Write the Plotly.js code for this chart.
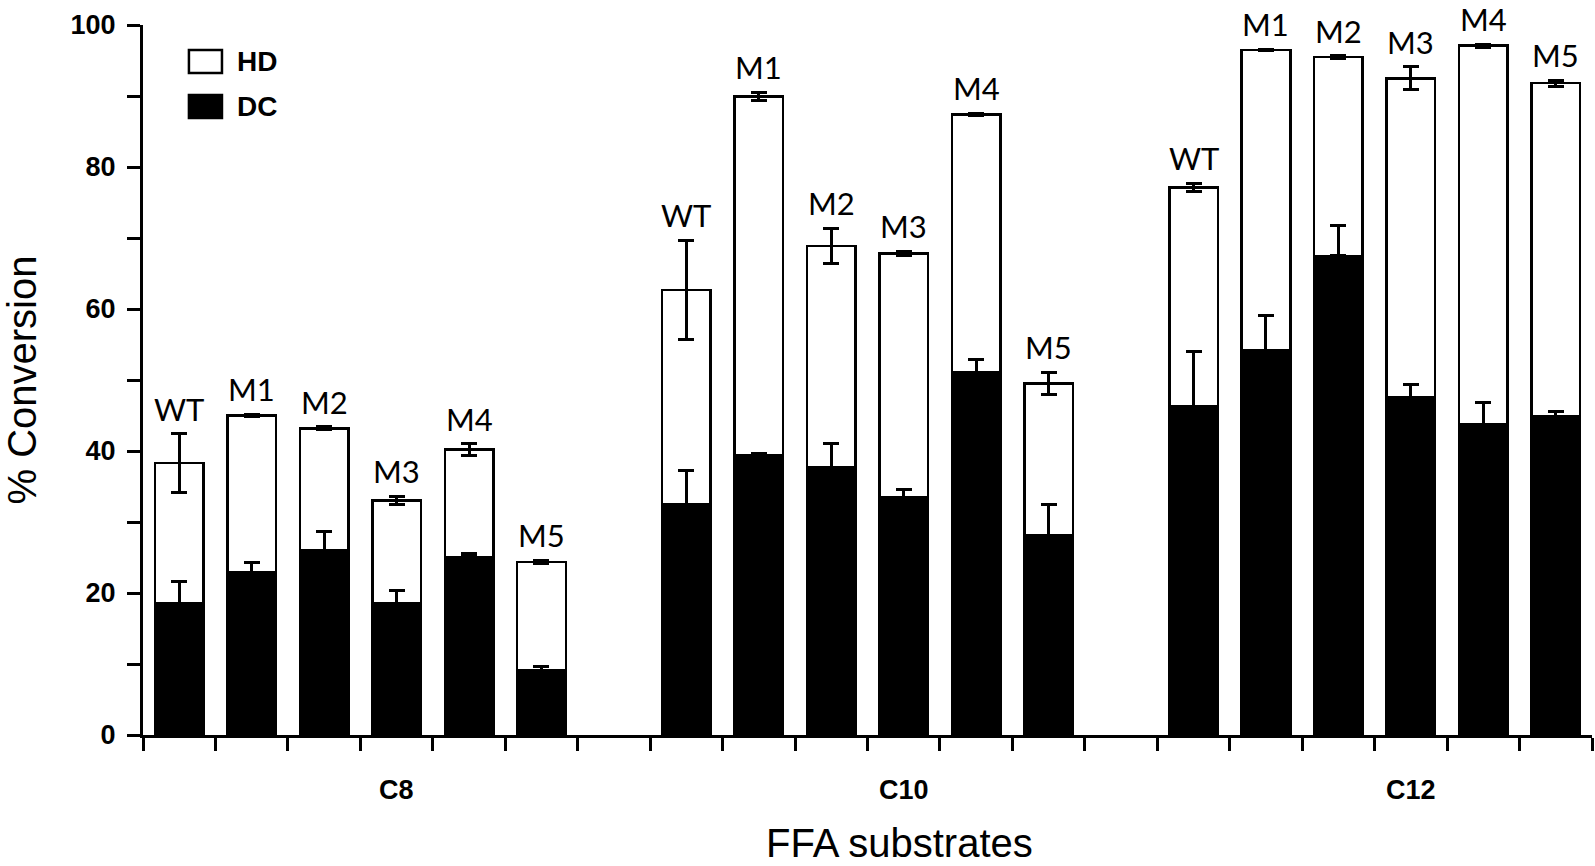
<!DOCTYPE html>
<html>
<head>
<meta charset="utf-8">
<script src="https://cdn.plot.ly/plotly-3.0.1.min.js"></script>
<style>
  html, body { margin: 0; padding: 0; background: #fff; overflow: hidden; }
  #chart { width: 1595px; height: 866px; }
</style>
</head>
<body>
<div id="chart"></div>
<script>
// ---- data ----
const substrates = ['C8', 'C10', 'C12'];
const strains = ['WT', 'M1', 'M2', 'M3', 'M4', 'M5'];

// total conversion (HD + DC), per substrate, strains WT..M5
const totalC8  = [38.3, 45.0, 43.2, 33.0, 40.2, 24.4];
const totalC10 = [62.7, 89.9, 68.9, 67.8, 87.4, 49.5];
const totalC12 = [77.1, 96.5, 95.5, 92.5, 97.1, 91.8];
const totalErrC8  = [4.1, 0.2, 0.2, 0.6, 0.8, 0.2];
const totalErrC10 = [7.0, 0.6, 2.5, 0.3, 0.2, 1.6];
const totalErrC12 = [0.6, 0.1, 0.2, 1.6, 0.2, 0.4];

// DC conversion
const dcC8  = [18.5, 22.9, 26.0, 18.5, 25.1, 9.1];
const dcC10 = [32.5, 39.4, 37.7, 33.5, 51.1, 28.1];
const dcC12 = [46.3, 54.2, 67.5, 47.6, 43.7, 44.9];
const dcErrC8  = [3.1, 1.4, 2.6, 1.9, 0.5, 0.6];
const dcErrC10 = [4.8, 0.2, 3.3, 1.1, 1.8, 4.4];
const dcErrC12 = [7.7, 4.9, 4.3, 1.8, 3.2, 0.7];

const totals = [totalC8, totalC10, totalC12];
const totalErrs = [totalErrC8, totalErrC10, totalErrC12];
const dcs = [dcC8, dcC10, dcC12];
const dcErrs = [dcErrC8, dcErrC10, dcErrC12];

// ---- build category axis: 6 strains per substrate, an empty slot between groups ----
const cats = [], dcY = [], hdY = [], totY = [], totE = [], dcE = [], dcEm = [], labs = [];
substrates.forEach((s, g) => {
  strains.forEach((st, i) => {
    cats.push(s + ' ' + st);
    dcY.push(dcs[g][i]);
    hdY.push(+(totals[g][i] - dcs[g][i]).toFixed(2));
    totY.push(totals[g][i]);
    totE.push(totalErrs[g][i]);
    dcE.push(dcErrs[g][i]);
    dcEm.push(0);
    labs.push(st);
  });
  if (g < substrates.length - 1) {
    cats.push(' '.repeat(g + 1));
    dcY.push(null); hdY.push(null); totY.push(null);
    totE.push(null); dcE.push(null); dcEm.push(null); labs.push(null);
  }
});

const dcTrace = {
  type: 'bar', name: 'DC', x: cats, y: dcY,
  marker: { color: '#000', line: { color: '#000', width: 2.5 } },
  error_y: { type: 'data', symmetric: false, array: dcE, arrayminus: dcEm,
             color: '#000', thickness: 3, width: 8 },
  hoverinfo: 'x+y'
};
const hdTrace = {
  type: 'bar', name: 'HD', x: cats, y: hdY,
  marker: { color: 'rgba(255,255,255,0)', line: { color: '#000', width: 2.5 } },
  error_y: { type: 'data', array: totE, color: '#000', thickness: 3, width: 8 },
  hoverinfo: 'x+y'
};

const annotations = [];
// strain labels above each bar
cats.forEach((c, k) => {
  if (labs[k] === null) return;
  annotations.push({
    x: c, xref: 'x', y: totY[k] + totE[k], yref: 'y',
    text: labs[k], showarrow: false, yanchor: 'bottom', yshift: 4,
    font: { family: 'Lato, "Open Sans", sans-serif', size: 31, color: '#000' }
  });
});
// substrate group labels, centred on each 7-slot group
substrates.forEach((s, g) => {
  annotations.push({
    x: g * 7 + 3, xref: 'x', y: 0, yref: 'paper',
    text: '<b>' + s + '</b>', showarrow: false, yanchor: 'middle', yshift: -55,
    font: { family: '"Liberation Sans", Arial, sans-serif', size: 27, color: '#000' }
  });
});
// x-axis title
annotations.push({
  x: 0.5224, xref: 'paper', y: 0, yref: 'paper',
  text: 'FFA substrates', showarrow: false, yanchor: 'middle', yshift: -107.5,
  font: { family: '"Liberation Sans", Arial, sans-serif', size: 40, color: '#000' }
});
// legend texts
annotations.push({
  x: 0.0635, xref: 'paper', y: 0.9479, yref: 'paper', text: '<b>HD</b>',
  showarrow: false, xanchor: 'left', yanchor: 'middle',
  font: { family: '"Liberation Sans", Arial, sans-serif', size: 28, color: '#000' }
});
annotations.push({
  x: 0.0635, xref: 'paper', y: 0.8846, yref: 'paper', text: '<b>DC</b>',
  showarrow: false, xanchor: 'left', yanchor: 'middle',
  font: { family: '"Liberation Sans", Arial, sans-serif', size: 28, color: '#000' }
});

const shapes = [
  { type: 'rect', xref: 'paper', yref: 'paper', x0: 0.0317, x1: 0.0545, y0: 0.9324, y1: 0.9648,
    fillcolor: '#fff', line: { color: '#000', width: 2.5 } },
  { type: 'rect', xref: 'paper', yref: 'paper', x0: 0.0317, x1: 0.0545, y0: 0.8691, y1: 0.9015,
    fillcolor: '#000', line: { color: '#000', width: 2.5 } }
];

const layout = {
  width: 1595, height: 866,
  margin: { l: 143, r: 3, t: 25, b: 130.5, pad: 0 },
  paper_bgcolor: '#fff', plot_bgcolor: '#fff',
  barmode: 'stack', bargap: 0.33,
  showlegend: false,
  font: { family: '"Liberation Sans", Arial, sans-serif', color: '#000' },
  xaxis: {
    type: 'category', categoryorder: 'array', categoryarray: cats,
    range: [-0.5, cats.length - 0.5],
    showticklabels: false, tickson: 'boundaries',
    ticks: 'outside', ticklen: 13, tickwidth: 3, tickcolor: '#000',
    showline: true, linecolor: '#000', linewidth: 3,
    showgrid: false, zeroline: false, fixedrange: true
  },
  yaxis: {
    range: [0, 100], dtick: 20, tick0: 0,
    ticks: 'outside', ticklen: 13, tickwidth: 3, tickcolor: '#000',
    minor: { dtick: 10, ticks: 'outside', ticklen: 13, tickwidth: 3, tickcolor: '#000' },
    ticklabelstandoff: 6,
    tickfont: { family: '"Liberation Sans", Arial, sans-serif', size: 27, color: '#000', weight: 'bold' },
    showline: true, linecolor: '#000', linewidth: 3,
    showgrid: false, zeroline: false, fixedrange: true,
    title: { text: '% Conversion', standoff: 26,
             font: { family: '"Liberation Sans", Arial, sans-serif', size: 40, color: '#000' } }
  },
  annotations: annotations,
  shapes: shapes
};

Plotly.newPlot('chart', [dcTrace, hdTrace], layout, { displayModeBar: false, staticPlot: true });
</script>
</body>
</html>
